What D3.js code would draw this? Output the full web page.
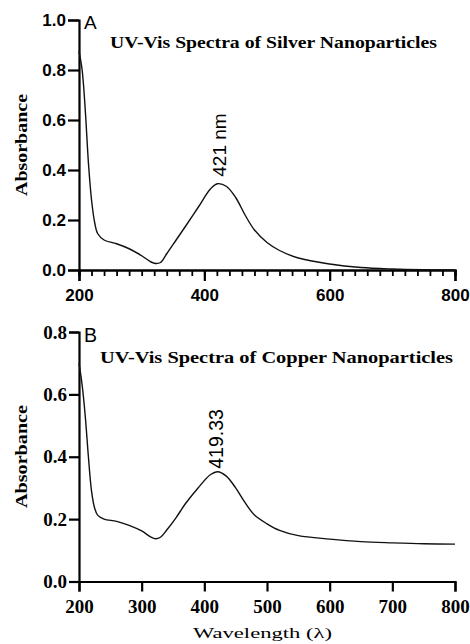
<!DOCTYPE html>
<html>
<head>
<meta charset="utf-8">
<script src="https://cdn.jsdelivr.net/npm/d3@7"></script>
<style>
  body { margin: 0; background: #fff; }
  svg { display: block; }
  .serif { font-family: "Liberation Serif", "Times New Roman", serif; }
  .sans { font-family: "Liberation Sans", Arial, sans-serif; }
</style>
</head>
<body>
<div id="chart"></div>
<script>
// panel A - silver
const silverWl = [200, 205, 210, 215, 220, 225, 230, 240, 260, 280, 300, 315, 322, 330, 340, 355, 370, 390, 410, 421, 435, 450, 465, 480, 500, 520, 550, 600, 650, 700, 750, 800];
const silverAbs = [0.875, 0.80, 0.64, 0.43, 0.28, 0.19, 0.145, 0.12, 0.105, 0.085, 0.057, 0.032, 0.026, 0.03, 0.065, 0.12, 0.175, 0.25, 0.325, 0.345, 0.335, 0.29, 0.22, 0.16, 0.11, 0.078, 0.048, 0.024, 0.01, 0.004, 0.001, 0.0];
// panel B - copper
const copperWl = [200, 205, 210, 215, 220, 225, 230, 240, 260, 280, 300, 315, 322, 330, 340, 355, 370, 390, 410, 421, 435, 450, 465, 480, 500, 520, 550, 600, 650, 700, 750, 800];
const copperAbs = [0.70, 0.63, 0.53, 0.40, 0.29, 0.235, 0.212, 0.20, 0.193, 0.18, 0.162, 0.142, 0.137, 0.142, 0.165, 0.205, 0.25, 0.30, 0.343, 0.352, 0.338, 0.30, 0.253, 0.213, 0.185, 0.164, 0.147, 0.136, 0.128, 0.124, 0.121, 0.120];

const ticksAy = [0, 0.2, 0.4, 0.6, 0.8, 1.0];
const ticksAx = [200, 400, 600, 800];
const ticksBy = [0, 0.2, 0.4, 0.6, 0.8];
const ticksBx = [200, 300, 400, 500, 600, 700, 800];

const W = 470, H = 644;
const svg = d3.select("#chart").append("svg")
    .attr("width", W)
    .attr("height", H);

const x = d3.scaleLinear().domain([200, 800]).range([79, 455]);
const yA = d3.scaleLinear().domain([0, 1]).range([270, 20]);
const yB = d3.scaleLinear().domain([0, 0.8]).range([581.5, 332]);

function styleAxis(g) {
  g.select(".domain").attr("stroke", "#000").attr("stroke-width", 2.2);
  g.selectAll(".tick line").attr("stroke", "#000").attr("stroke-width", 2.2);
}

// text stretched to the width seen in the figure
function label(g, cls, txt, size, len, bold) {
  return g.append("text").attr("class", cls)
      .attr("font-size", size)
      .attr("font-weight", bold ? "bold" : "normal")
      .attr("textLength", len)
      .attr("lengthAdjust", "spacingAndGlyphs")
      .text(txt);
}

// ---- panel A ----
const gA = svg.append("g");

gA.append("g")
    .attr("transform", "translate(0,270)")
    .call(d3.axisBottom(x).tickValues(d3.range(200, 801, 20)).tickSize(6).tickFormat(""))
    .call(styleAxis)
    .call(g => g.selectAll(".tick line").attr("stroke-width", 1.8));

gA.append("g")
    .attr("transform", "translate(0,270)")
    .call(d3.axisBottom(x).tickValues(ticksAx).tickSize(11).tickPadding(8).tickFormat(d3.format("d")))
    .call(styleAxis)
    .call(g => g.selectAll("text").attr("class", "sans").attr("font-size", 17).attr("font-weight", "bold").attr("fill", "#000"));

gA.append("g")
    .attr("transform", "translate(79,0)")
    .call(d3.axisLeft(yA).tickValues(ticksAy).tickSize(11).tickPadding(2).tickFormat(d3.format(".1f")))
    .call(styleAxis)
    .call(g => g.selectAll("text").attr("class", "sans").attr("font-size", 17).attr("font-weight", "bold").attr("fill", "#000"));

gA.append("path")
    .datum(silverWl.map((w, i) => [w, silverAbs[i]]))
    .attr("fill", "none")
    .attr("stroke", "#111")
    .attr("stroke-width", 1.4)
    .attr("d", d3.line().x(d => x(d[0])).y(d => yA(d[1])).curve(d3.curveCatmullRom));

gA.append("text").attr("class", "sans")
    .attr("x", 84).attr("y", 29)
    .attr("font-size", 19)
    .text("A");

label(gA, "serif", "UV-Vis Spectra of Silver Nanoparticles", 16, 327, true)
    .attr("x", 110).attr("y", 48);

label(gA, "serif", "Absorbance", 17.5, 102, true)
    .attr("transform", "translate(27,196) rotate(-90)");

gA.append("text").attr("class", "sans")
    .attr("transform", `translate(${x(421) + 9},${yA(0.345) - 7}) rotate(-90)`)
    .attr("font-size", 19)
    .text("421 nm");

// ---- panel B ----
const gB = svg.append("g");

gB.append("g")
    .attr("transform", "translate(0,581.5)")
    .call(d3.axisBottom(x).tickValues(ticksBx).tickSize(10).tickPadding(8).tickFormat(d3.format("d")))
    .call(styleAxis)
    .call(g => g.selectAll("text").attr("class", "serif").attr("font-size", 19).attr("font-weight", "bold").attr("fill", "#000"));

gB.append("g")
    .attr("transform", "translate(79,0)")
    .call(d3.axisLeft(yB).tickValues(ticksBy).tickSize(10).tickPadding(2).tickFormat(d3.format(".1f")))
    .call(styleAxis)
    .call(g => g.selectAll("text").attr("class", "serif").attr("font-size", 19).attr("font-weight", "bold").attr("fill", "#000"));

gB.append("path")
    .datum(copperWl.map((w, i) => [w, copperAbs[i]]))
    .attr("fill", "none")
    .attr("stroke", "#111")
    .attr("stroke-width", 1.4)
    .attr("d", d3.line().x(d => x(d[0])).y(d => yB(d[1])).curve(d3.curveCatmullRom));

gB.append("text").attr("class", "sans")
    .attr("x", 84).attr("y", 342)
    .attr("font-size", 19.5)
    .text("B");

label(gB, "serif", "UV-Vis Spectra of Copper Nanoparticles", 17.5, 353, true)
    .attr("x", 100).attr("y", 363);

label(gB, "serif", "Absorbance", 17.5, 103, true)
    .attr("transform", "translate(27,508) rotate(-90)");

gB.append("text").attr("class", "sans")
    .attr("transform", `translate(${x(421) + 6},${yB(0.352) - 3}) rotate(-90)`)
    .attr("font-size", 19.5)
    .text("419.33");

label(svg, "serif", "Wavelength (λ)", 15, 139, false)
    .attr("x", 193).attr("y", 638);
</script>
</body>
</html>
